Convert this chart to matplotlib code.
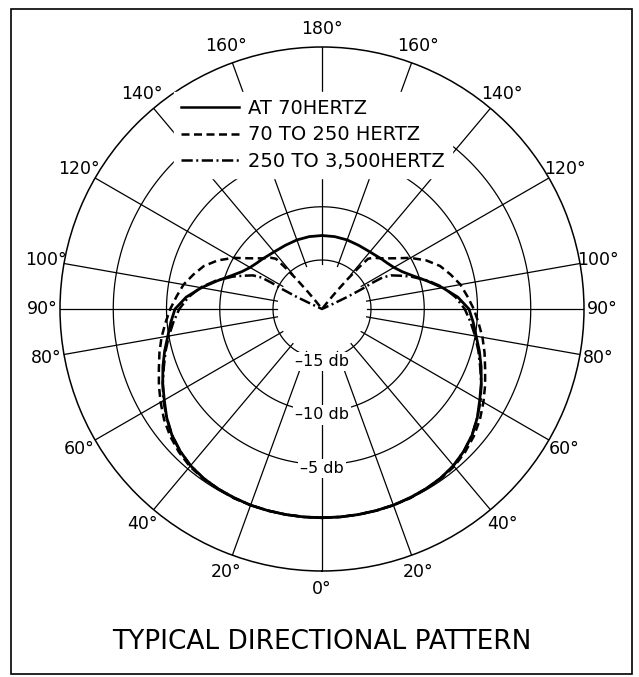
import numpy as np
import matplotlib
matplotlib.use("Agg")
import matplotlib.pyplot as plt
from matplotlib.lines import Line2D

plt.rcParams['font.family'] = ['DejaVu Sans']

# ---------------- data (right half, angle in degrees from front, level in dB) -------------
solid_ang = [0, 5, 10, 15, 20, 25, 30, 35, 40, 45, 50, 55, 60, 65, 70, 75, 80, 85, 90,
             95, 100, 105, 110, 115, 120, 125, 130, 140, 150, 160, 170, 180]
solid_db  = [0, 0, 0, 0, 0, -0.05, -0.1, -0.2, -0.4, -0.75, -1.2, -1.8, -2.5, -3.1, -3.7, -4.3, -4.9, -5.35, -5.8,
             -6.8, -8.1, -9.4, -10.5, -11.3, -11.8, -12.1, -12.3, -12.6, -12.7, -12.7, -12.7, -12.7]

dash_ang = [0, 5, 10, 15, 20, 25, 30, 35, 40, 45, 50, 55, 60, 65, 70, 75, 80, 85, 90,
            95, 100, 105, 110, 115, 120, 125, 130, 135, 137.5, 138.5, 139.5, 140.5, 141.5, 142.5]
dash_db  = [0, 0, 0, 0, 0, 0, -0.1, -0.15, -0.3, -0.6, -1.0, -1.5, -2.1, -2.7, -3.3, -3.8, -4.3, -4.85, -5.35,
            -5.9, -6.4, -7.1, -7.8, -8.8, -10.0, -11.3, -12.2, -12.8, -13.2, -14.5, -16.0, -17.5, -18.7, -19.6]

dd_ang = [0, 5, 10, 15, 20, 25, 30, 35, 40, 45, 50, 55, 60, 65, 70, 75, 80, 85, 90,
          95, 100, 105, 110, 113, 116, 117.5, 117.5, 116.5, 115.5, 115, 115]
dd_db  = [0, 0, 0, 0, 0, -0.05, -0.1, -0.2, -0.4, -0.75, -1.2, -1.8, -2.4, -3.1, -3.8, -4.4, -5.0, -5.6, -6.2,
          -7.0, -8.0, -9.3, -10.7, -11.6, -12.4, -13.2, -14.3, -15.5, -17.0, -18.5, -19.6]

series_labels = ["AT 70HERTZ", "70 TO 250 HERTZ", "250 TO 3,500HERTZ"]

grid_db = [-15, -10, -5, 0]
db_labels = ["\u201315 db", "\u201310 db", "\u20135 db"]
spoke_angles = [0, 20, 40, 60, 80, 90, 100, 120, 140, 160, 180]
title = "TYPICAL DIRECTIONAL PATTERN"

R_MIN, R_MAX = -19.6, 5.0

DASH = (0, (3.2, 1.8))
DASHDOT = (0, (4.5, 1.4, 0.8, 1.4))


def full(ang, db):
    a = np.array(ang, dtype=float)
    d = np.array(db, dtype=float)
    th = np.concatenate([a, 360 - a[::-1]])
    r = np.concatenate([d, d[::-1]])
    return np.deg2rad(th), r


W, H = 639, 677
fig = plt.figure(figsize=(W / 100, H / 100), dpi=100)
cx, cy, rad = 322, 309, 262
ax = fig.add_axes([(cx - rad) / W, (H - cy - rad) / H, 2 * rad / W, 2 * rad / H],
                  projection='polar')
ax.set_theta_zero_location('S')
ax.set_theta_direction(1)
ax.set_rlim(R_MIN, R_MAX)
ax.grid(False)
ax.set_xticks([])
ax.set_yticks([])
ax.spines['polar'].set_linewidth(1.1)

tt = np.linspace(0, 2 * np.pi, 400)
for g in grid_db:
    ax.plot(tt, np.full_like(tt, g), color='black', lw=0.9, zorder=1)

for a in spoke_angles:
    for s in ([a] if a in (0, 180) else [a, 360 - a]):
        th = np.deg2rad(s)
        ax.plot([th, th], [-15.35, R_MAX], color='black', lw=0.9, zorder=1)

for a in spoke_angles:
    for s in ([a] if a in (0, 180) else [a, 360 - a]):
        ax.text(np.deg2rad(s), 6.7, f"{a}\u00b0", ha='center', va='center',
                fontsize=12.5, clip_on=False)

for g, lab in zip(grid_db[:3], db_labels):
    ax.text(0, g + 0.35, lab, ha='center', va='center', fontsize=11.5, zorder=4,
            bbox=dict(facecolor='white', edgecolor='none', pad=1.5))

th, r = full(solid_ang, solid_db)
ax.plot(th, r, color='black', lw=2.0, ls='-', zorder=3)
th, r = full(dash_ang, dash_db)
ax.plot(th, r, color='black', lw=1.8, ls=DASH, zorder=3)
th, r = full(dd_ang, dd_db)
ax.plot(th, r, color='black', lw=1.8, ls=DASHDOT, zorder=3)

handles = [Line2D([], [], color='black', lw=1.8, ls='-'),
           Line2D([], [], color='black', lw=1.8, ls=DASH),
           Line2D([], [], color='black', lw=1.8, ls=DASHDOT)]
leg = fig.legend(handles, series_labels, loc='upper left',
                 bbox_to_anchor=(174 / W, 1 - 92 / H), borderaxespad=0,
                 frameon=True, fontsize=14, handlelength=3.0, handletextpad=0.45,
                 labelspacing=0.38, borderpad=0.36, fancybox=False)
leg.get_frame().set_facecolor('white')
leg.get_frame().set_edgecolor('white')
leg.get_frame().set_alpha(1)
leg.set_zorder(10)

fig.text(cx / W, 1 - 642 / H, title, ha='center', va='center', fontsize=19)

fig.add_artist(plt.Rectangle((11 / W, 3 / H), 621 / W, 665 / H, fill=False,
                             lw=1.2, edgecolor='black', transform=fig.transFigure))

fig.savefig("out.png", dpi=100)
